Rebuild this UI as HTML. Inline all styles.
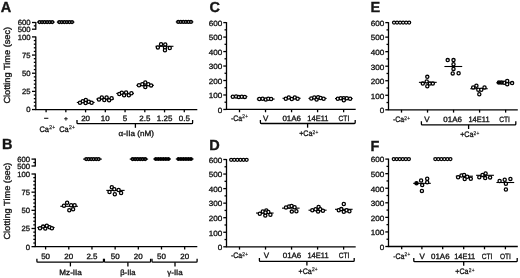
<!DOCTYPE html>
<html><head><meta charset="utf-8"><style>
html,body{margin:0;padding:0;background:#fff;}
svg{display:block;filter:grayscale(1);}
text{font-family:"Liberation Sans",sans-serif;fill:#151515;stroke:#151515;stroke-width:0.35px;text-rendering:geometricPrecision;}
</style></head><body>
<svg width="520" height="278" viewBox="0 0 520 278" xmlns="http://www.w3.org/2000/svg">
<g stroke="#000" stroke-linecap="butt" fill="none">
<text x="0.70" y="11.90" font-size="14.5" font-weight="bold">A</text>
<line x1="35.80" y1="22.00" x2="35.80" y2="29.70" stroke-width="1.3"/>
<line x1="32.00" y1="22.50" x2="35.80" y2="22.50" stroke-width="1.3"/>
<line x1="32.00" y1="29.20" x2="35.80" y2="29.20" stroke-width="1.3"/>
<line x1="33.80" y1="25.85" x2="35.80" y2="25.85" stroke-width="1.3"/>
<text transform="translate(30.50,25.35) scale(0.95,0.93)" text-anchor="end" font-size="8.1">600</text>
<text transform="translate(30.50,32.05) scale(0.95,0.93)" text-anchor="end" font-size="8.1">500</text>
<line x1="35.80" y1="36.40" x2="35.80" y2="109.55" stroke-width="1.3"/>
<line x1="32.00" y1="109.55" x2="35.80" y2="109.55" stroke-width="1.3"/>
<text transform="translate(30.50,112.40) scale(0.95,0.93)" text-anchor="end" font-size="8.1">0</text>
<line x1="33.80" y1="105.92" x2="35.80" y2="105.92" stroke-width="1.3"/>
<line x1="33.80" y1="102.28" x2="35.80" y2="102.28" stroke-width="1.3"/>
<line x1="33.80" y1="98.65" x2="35.80" y2="98.65" stroke-width="1.3"/>
<line x1="33.80" y1="95.02" x2="35.80" y2="95.02" stroke-width="1.3"/>
<line x1="32.00" y1="91.39" x2="35.80" y2="91.39" stroke-width="1.3"/>
<text transform="translate(30.50,94.24) scale(0.95,0.93)" text-anchor="end" font-size="8.1">25</text>
<line x1="33.80" y1="87.75" x2="35.80" y2="87.75" stroke-width="1.3"/>
<line x1="33.80" y1="84.12" x2="35.80" y2="84.12" stroke-width="1.3"/>
<line x1="33.80" y1="80.49" x2="35.80" y2="80.49" stroke-width="1.3"/>
<line x1="33.80" y1="76.86" x2="35.80" y2="76.86" stroke-width="1.3"/>
<line x1="32.00" y1="73.22" x2="35.80" y2="73.22" stroke-width="1.3"/>
<text transform="translate(30.50,76.07) scale(0.95,0.93)" text-anchor="end" font-size="8.1">50</text>
<line x1="33.80" y1="69.59" x2="35.80" y2="69.59" stroke-width="1.3"/>
<line x1="33.80" y1="65.96" x2="35.80" y2="65.96" stroke-width="1.3"/>
<line x1="33.80" y1="62.33" x2="35.80" y2="62.33" stroke-width="1.3"/>
<line x1="33.80" y1="58.69" x2="35.80" y2="58.69" stroke-width="1.3"/>
<line x1="32.00" y1="55.06" x2="35.80" y2="55.06" stroke-width="1.3"/>
<text transform="translate(30.50,57.91) scale(0.95,0.93)" text-anchor="end" font-size="8.1">75</text>
<line x1="33.80" y1="51.43" x2="35.80" y2="51.43" stroke-width="1.3"/>
<line x1="33.80" y1="47.80" x2="35.80" y2="47.80" stroke-width="1.3"/>
<line x1="33.80" y1="44.16" x2="35.80" y2="44.16" stroke-width="1.3"/>
<line x1="33.80" y1="40.53" x2="35.80" y2="40.53" stroke-width="1.3"/>
<line x1="32.00" y1="36.90" x2="35.80" y2="36.90" stroke-width="1.3"/>
<text transform="translate(30.50,39.75) scale(0.95,0.93)" text-anchor="end" font-size="8.1">100</text>
<text x="0" y="0" transform="translate(9.7,65.25) rotate(-90)" text-anchor="middle" font-size="8.8" textLength="76.7" lengthAdjust="spacingAndGlyphs">Clotting Time (sec)</text>
<line x1="35.25" y1="109.55" x2="197.30" y2="109.55" stroke-width="1.3"/>
<line x1="46.10" y1="109.55" x2="46.10" y2="112.35" stroke-width="1.3"/>
<line x1="65.84" y1="109.55" x2="65.84" y2="112.35" stroke-width="1.3"/>
<line x1="85.58" y1="109.55" x2="85.58" y2="112.35" stroke-width="1.3"/>
<line x1="105.32" y1="109.55" x2="105.32" y2="112.35" stroke-width="1.3"/>
<line x1="125.06" y1="109.55" x2="125.06" y2="112.35" stroke-width="1.3"/>
<line x1="144.80" y1="109.55" x2="144.80" y2="112.35" stroke-width="1.3"/>
<line x1="164.54" y1="109.55" x2="164.54" y2="112.35" stroke-width="1.3"/>
<line x1="184.28" y1="109.55" x2="184.28" y2="112.35" stroke-width="1.3"/>
<text x="46.30" y="120.10" text-anchor="middle" font-size="7">–</text>
<text x="65.84" y="120.90" text-anchor="middle" font-size="6.6">+</text>
<text transform="translate(47.30,131.60) scale(0.92,1)" text-anchor="middle" font-size="8.0">Ca<tspan font-size="5.44" dx="0.3" dy="-2.5" style="stroke-width:0.25px">2</tspan><tspan font-size="5.44" dx="0.3" style="stroke-width:0.2px">+</tspan></text>
<text transform="translate(67.04,131.60) scale(0.92,1)" text-anchor="middle" font-size="8.0">Ca<tspan font-size="5.44" dx="0.3" dy="-2.5" style="stroke-width:0.25px">2</tspan><tspan font-size="5.44" dx="0.3" style="stroke-width:0.2px">+</tspan></text>
<text transform="translate(85.58,120.60) scale(1.0,0.96)" text-anchor="middle" font-size="8.0">20</text>
<text transform="translate(105.32,120.60) scale(1.0,0.96)" text-anchor="middle" font-size="8.0">10</text>
<text transform="translate(125.06,120.60) scale(1.0,0.96)" text-anchor="middle" font-size="8.0">5</text>
<text transform="translate(144.80,120.60) scale(1.0,0.96)" text-anchor="middle" font-size="8.0">2.5</text>
<text transform="translate(164.54,120.60) scale(1.0,0.96)" text-anchor="middle" font-size="8.0">1.25</text>
<text transform="translate(184.28,120.60) scale(1.0,0.96)" text-anchor="middle" font-size="8.0">0.5</text>
<path d="M77.00,120.10 L77.00,122.70 Q77.00,123.60 77.90,123.60 L191.70,123.60 Q192.60,123.60 192.60,122.70 L192.60,120.10" fill="none" stroke-width="1.3"/>
<line x1="135.40" y1="123.60" x2="135.40" y2="127.80" stroke-width="1.3"/>
<text transform="translate(136.20,136.40) scale(1.0,0.96)" text-anchor="middle" font-size="8.0" textLength="35.4" lengthAdjust="spacingAndGlyphs">α-IIa (nM)</text>
<line x1="37.10" y1="22.10" x2="54.70" y2="22.10" stroke-width="1.1"/>
<circle cx="39.52" cy="22.10" r="1.3" fill="#fff" stroke-width="1.5"/>
<circle cx="42.07" cy="22.10" r="1.3" fill="#fff" stroke-width="1.5"/>
<circle cx="44.62" cy="22.10" r="1.3" fill="#fff" stroke-width="1.5"/>
<circle cx="47.17" cy="22.10" r="1.3" fill="#fff" stroke-width="1.5"/>
<circle cx="49.72" cy="22.10" r="1.3" fill="#fff" stroke-width="1.5"/>
<circle cx="52.27" cy="22.10" r="1.3" fill="#fff" stroke-width="1.5"/>
<line x1="56.84" y1="22.10" x2="74.44" y2="22.10" stroke-width="1.1"/>
<circle cx="59.27" cy="22.10" r="1.3" fill="#fff" stroke-width="1.5"/>
<circle cx="61.81" cy="22.10" r="1.3" fill="#fff" stroke-width="1.5"/>
<circle cx="64.36" cy="22.10" r="1.3" fill="#fff" stroke-width="1.5"/>
<circle cx="66.92" cy="22.10" r="1.3" fill="#fff" stroke-width="1.5"/>
<circle cx="69.47" cy="22.10" r="1.3" fill="#fff" stroke-width="1.5"/>
<circle cx="72.02" cy="22.10" r="1.3" fill="#fff" stroke-width="1.5"/>
<line x1="76.80" y1="102.45" x2="94.60" y2="102.45" stroke-width="1.1"/>
<circle cx="80.00" cy="102.80" r="1.6" fill="#fff" stroke-width="1.3"/>
<circle cx="82.80" cy="101.30" r="1.6" fill="#fff" stroke-width="1.3"/>
<circle cx="85.80" cy="100.00" r="1.6" fill="#fff" stroke-width="1.3"/>
<circle cx="85.60" cy="103.00" r="1.6" fill="#fff" stroke-width="1.3"/>
<circle cx="88.80" cy="101.80" r="1.6" fill="#fff" stroke-width="1.3"/>
<circle cx="91.60" cy="102.80" r="1.6" fill="#fff" stroke-width="1.3"/>
<line x1="96.30" y1="99.00" x2="113.90" y2="99.00" stroke-width="1.1"/>
<circle cx="99.00" cy="99.50" r="1.6" fill="#fff" stroke-width="1.3"/>
<circle cx="101.80" cy="97.50" r="1.6" fill="#fff" stroke-width="1.3"/>
<circle cx="104.30" cy="100.00" r="1.6" fill="#fff" stroke-width="1.3"/>
<circle cx="106.60" cy="97.50" r="1.6" fill="#fff" stroke-width="1.3"/>
<circle cx="109.10" cy="100.30" r="1.6" fill="#fff" stroke-width="1.3"/>
<circle cx="111.60" cy="98.30" r="1.6" fill="#fff" stroke-width="1.3"/>
<line x1="116.30" y1="93.45" x2="133.90" y2="93.45" stroke-width="1.1"/>
<circle cx="119.30" cy="94.00" r="1.6" fill="#fff" stroke-width="1.3"/>
<circle cx="121.80" cy="92.80" r="1.6" fill="#fff" stroke-width="1.3"/>
<circle cx="124.10" cy="95.30" r="1.6" fill="#fff" stroke-width="1.3"/>
<circle cx="126.10" cy="92.50" r="1.6" fill="#fff" stroke-width="1.3"/>
<circle cx="128.80" cy="95.30" r="1.6" fill="#fff" stroke-width="1.3"/>
<circle cx="131.40" cy="93.30" r="1.6" fill="#fff" stroke-width="1.3"/>
<line x1="136.30" y1="85.30" x2="153.90" y2="85.30" stroke-width="1.1"/>
<circle cx="139.00" cy="85.30" r="1.6" fill="#fff" stroke-width="1.3"/>
<circle cx="142.30" cy="84.30" r="1.6" fill="#fff" stroke-width="1.3"/>
<circle cx="145.30" cy="82.50" r="1.6" fill="#fff" stroke-width="1.3"/>
<circle cx="145.30" cy="87.10" r="1.6" fill="#fff" stroke-width="1.3"/>
<circle cx="148.30" cy="84.30" r="1.6" fill="#fff" stroke-width="1.3"/>
<circle cx="151.10" cy="85.40" r="1.6" fill="#fff" stroke-width="1.3"/>
<line x1="155.45" y1="46.30" x2="173.45" y2="46.30" stroke-width="1.1"/>
<circle cx="157.85" cy="47.40" r="1.6" fill="#fff" stroke-width="1.3"/>
<circle cx="161.05" cy="44.20" r="1.6" fill="#fff" stroke-width="1.3"/>
<circle cx="165.25" cy="44.50" r="1.6" fill="#fff" stroke-width="1.3"/>
<circle cx="164.95" cy="47.70" r="1.6" fill="#fff" stroke-width="1.3"/>
<circle cx="164.95" cy="50.30" r="1.6" fill="#fff" stroke-width="1.3"/>
<circle cx="169.75" cy="48.00" r="1.6" fill="#fff" stroke-width="1.3"/>
<line x1="175.80" y1="21.90" x2="193.40" y2="21.90" stroke-width="1.1"/>
<circle cx="178.22" cy="21.90" r="1.3" fill="#fff" stroke-width="1.5"/>
<circle cx="180.78" cy="21.90" r="1.3" fill="#fff" stroke-width="1.5"/>
<circle cx="183.32" cy="21.90" r="1.3" fill="#fff" stroke-width="1.5"/>
<circle cx="185.88" cy="21.90" r="1.3" fill="#fff" stroke-width="1.5"/>
<circle cx="188.42" cy="21.90" r="1.3" fill="#fff" stroke-width="1.5"/>
<circle cx="190.97" cy="21.90" r="1.3" fill="#fff" stroke-width="1.5"/>
<text x="2.00" y="149.30" font-size="14.5" font-weight="bold">B</text>
<line x1="35.30" y1="158.60" x2="35.30" y2="166.50" stroke-width="1.3"/>
<line x1="31.50" y1="159.10" x2="35.30" y2="159.10" stroke-width="1.3"/>
<line x1="31.50" y1="166.00" x2="35.30" y2="166.00" stroke-width="1.3"/>
<line x1="33.30" y1="162.55" x2="35.30" y2="162.55" stroke-width="1.3"/>
<text transform="translate(30.00,161.95) scale(0.95,0.93)" text-anchor="end" font-size="8.1">600</text>
<text transform="translate(30.00,168.85) scale(0.95,0.93)" text-anchor="end" font-size="8.1">500</text>
<line x1="35.30" y1="173.50" x2="35.30" y2="246.65" stroke-width="1.3"/>
<line x1="31.50" y1="246.65" x2="35.30" y2="246.65" stroke-width="1.3"/>
<text transform="translate(30.00,249.50) scale(0.95,0.93)" text-anchor="end" font-size="8.1">0</text>
<line x1="33.30" y1="243.02" x2="35.30" y2="243.02" stroke-width="1.3"/>
<line x1="33.30" y1="239.38" x2="35.30" y2="239.38" stroke-width="1.3"/>
<line x1="33.30" y1="235.75" x2="35.30" y2="235.75" stroke-width="1.3"/>
<line x1="33.30" y1="232.12" x2="35.30" y2="232.12" stroke-width="1.3"/>
<line x1="31.50" y1="228.49" x2="35.30" y2="228.49" stroke-width="1.3"/>
<text transform="translate(30.00,231.34) scale(0.95,0.93)" text-anchor="end" font-size="8.1">25</text>
<line x1="33.30" y1="224.85" x2="35.30" y2="224.85" stroke-width="1.3"/>
<line x1="33.30" y1="221.22" x2="35.30" y2="221.22" stroke-width="1.3"/>
<line x1="33.30" y1="217.59" x2="35.30" y2="217.59" stroke-width="1.3"/>
<line x1="33.30" y1="213.96" x2="35.30" y2="213.96" stroke-width="1.3"/>
<line x1="31.50" y1="210.32" x2="35.30" y2="210.32" stroke-width="1.3"/>
<text transform="translate(30.00,213.17) scale(0.95,0.93)" text-anchor="end" font-size="8.1">50</text>
<line x1="33.30" y1="206.69" x2="35.30" y2="206.69" stroke-width="1.3"/>
<line x1="33.30" y1="203.06" x2="35.30" y2="203.06" stroke-width="1.3"/>
<line x1="33.30" y1="199.43" x2="35.30" y2="199.43" stroke-width="1.3"/>
<line x1="33.30" y1="195.79" x2="35.30" y2="195.79" stroke-width="1.3"/>
<line x1="31.50" y1="192.16" x2="35.30" y2="192.16" stroke-width="1.3"/>
<text transform="translate(30.00,195.01) scale(0.95,0.93)" text-anchor="end" font-size="8.1">75</text>
<line x1="33.30" y1="188.53" x2="35.30" y2="188.53" stroke-width="1.3"/>
<line x1="33.30" y1="184.90" x2="35.30" y2="184.90" stroke-width="1.3"/>
<line x1="33.30" y1="181.26" x2="35.30" y2="181.26" stroke-width="1.3"/>
<line x1="33.30" y1="177.63" x2="35.30" y2="177.63" stroke-width="1.3"/>
<line x1="31.50" y1="174.00" x2="35.30" y2="174.00" stroke-width="1.3"/>
<text transform="translate(30.00,176.85) scale(0.95,0.93)" text-anchor="end" font-size="8.1">100</text>
<text x="0" y="0" transform="translate(9.7,201.10) rotate(-90)" text-anchor="middle" font-size="8.8" textLength="77.0" lengthAdjust="spacingAndGlyphs">Clotting Time (sec)</text>
<line x1="34.70" y1="246.65" x2="197.30" y2="246.65" stroke-width="1.3"/>
<line x1="45.60" y1="246.65" x2="45.60" y2="249.45" stroke-width="1.3"/>
<line x1="68.78" y1="246.65" x2="68.78" y2="249.45" stroke-width="1.3"/>
<line x1="91.96" y1="246.65" x2="91.96" y2="249.45" stroke-width="1.3"/>
<line x1="115.14" y1="246.65" x2="115.14" y2="249.45" stroke-width="1.3"/>
<line x1="138.32" y1="246.65" x2="138.32" y2="249.45" stroke-width="1.3"/>
<line x1="161.50" y1="246.65" x2="161.50" y2="249.45" stroke-width="1.3"/>
<line x1="184.68" y1="246.65" x2="184.68" y2="249.45" stroke-width="1.3"/>
<text transform="translate(45.60,258.90) scale(1.0,0.96)" text-anchor="middle" font-size="8.0">50</text>
<text transform="translate(68.78,258.90) scale(1.0,0.96)" text-anchor="middle" font-size="8.0">20</text>
<text transform="translate(91.96,258.90) scale(1.0,0.96)" text-anchor="middle" font-size="8.0">2.5</text>
<text transform="translate(115.14,258.90) scale(1.0,0.96)" text-anchor="middle" font-size="8.0">50</text>
<text transform="translate(138.32,258.90) scale(1.0,0.96)" text-anchor="middle" font-size="8.0">20</text>
<text transform="translate(161.50,258.90) scale(1.0,0.96)" text-anchor="middle" font-size="8.0">50</text>
<text transform="translate(184.68,258.90) scale(1.0,0.96)" text-anchor="middle" font-size="8.0">20</text>
<path d="M36.90,258.70 L36.90,261.30 Q36.90,262.20 37.80,262.20 L102.60,262.20 Q103.50,262.20 103.50,261.30 L103.50,258.70" fill="none" stroke-width="1.3"/>
<line x1="70.40" y1="262.20" x2="70.40" y2="266.40" stroke-width="1.3"/>
<path d="M104.40,258.70 L104.40,261.30 Q104.40,262.20 105.30,262.20 L149.70,262.20 Q150.60,262.20 150.60,261.30 L150.60,258.70" fill="none" stroke-width="1.3"/>
<line x1="127.90" y1="262.20" x2="127.90" y2="266.40" stroke-width="1.3"/>
<path d="M152.00,258.70 L152.00,261.30 Q152.00,262.20 152.90,262.20 L196.20,262.20 Q197.10,262.20 197.10,261.30 L197.10,258.70" fill="none" stroke-width="1.3"/>
<line x1="175.00" y1="262.20" x2="175.00" y2="266.40" stroke-width="1.3"/>
<text transform="translate(70.60,274.60) scale(1.0,0.96)" text-anchor="middle" font-size="8.0" textLength="22.5" lengthAdjust="spacingAndGlyphs">Mz-IIa</text>
<text transform="translate(127.90,274.60) scale(1.0,0.96)" text-anchor="middle" font-size="8.0" textLength="15.4" lengthAdjust="spacingAndGlyphs">β-IIa</text>
<text transform="translate(175.00,274.60) scale(1.0,0.96)" text-anchor="middle" font-size="8.0" textLength="15.4" lengthAdjust="spacingAndGlyphs">γ-IIa</text>
<line x1="37.30" y1="227.50" x2="54.60" y2="227.50" stroke-width="1.1"/>
<circle cx="40.00" cy="228.30" r="1.6" fill="#fff" stroke-width="1.3"/>
<circle cx="43.10" cy="226.60" r="1.6" fill="#fff" stroke-width="1.3"/>
<circle cx="45.30" cy="228.60" r="1.6" fill="#fff" stroke-width="1.3"/>
<circle cx="46.80" cy="225.80" r="1.6" fill="#fff" stroke-width="1.3"/>
<circle cx="49.60" cy="227.30" r="1.6" fill="#fff" stroke-width="1.3"/>
<circle cx="51.90" cy="228.30" r="1.6" fill="#fff" stroke-width="1.3"/>
<line x1="60.30" y1="206.30" x2="77.90" y2="206.30" stroke-width="1.1"/>
<circle cx="64.00" cy="205.80" r="1.6" fill="#fff" stroke-width="1.3"/>
<circle cx="67.10" cy="202.80" r="1.6" fill="#fff" stroke-width="1.3"/>
<circle cx="71.10" cy="205.30" r="1.6" fill="#fff" stroke-width="1.3"/>
<circle cx="74.60" cy="205.30" r="1.6" fill="#fff" stroke-width="1.3"/>
<circle cx="69.30" cy="210.30" r="1.6" fill="#fff" stroke-width="1.3"/>
<circle cx="73.10" cy="209.30" r="1.6" fill="#fff" stroke-width="1.3"/>
<line x1="83.05" y1="159.10" x2="101.85" y2="159.10" stroke-width="1.1"/>
<circle cx="86.20" cy="159.10" r="1.3" fill="#fff" stroke-width="1.5"/>
<circle cx="88.70" cy="159.10" r="1.3" fill="#fff" stroke-width="1.5"/>
<circle cx="91.20" cy="159.10" r="1.3" fill="#fff" stroke-width="1.5"/>
<circle cx="93.70" cy="159.10" r="1.3" fill="#fff" stroke-width="1.5"/>
<circle cx="96.20" cy="159.10" r="1.3" fill="#fff" stroke-width="1.5"/>
<circle cx="98.70" cy="159.10" r="1.3" fill="#fff" stroke-width="1.5"/>
<line x1="106.30" y1="190.40" x2="124.60" y2="190.40" stroke-width="1.1"/>
<circle cx="109.50" cy="192.00" r="1.6" fill="#fff" stroke-width="1.3"/>
<circle cx="111.80" cy="187.30" r="1.6" fill="#fff" stroke-width="1.3"/>
<circle cx="114.30" cy="189.30" r="1.6" fill="#fff" stroke-width="1.3"/>
<circle cx="114.80" cy="194.30" r="1.6" fill="#fff" stroke-width="1.3"/>
<circle cx="118.60" cy="190.00" r="1.6" fill="#fff" stroke-width="1.3"/>
<circle cx="121.10" cy="193.00" r="1.6" fill="#fff" stroke-width="1.3"/>
<line x1="129.70" y1="159.10" x2="148.10" y2="159.10" stroke-width="1.1"/>
<circle cx="132.65" cy="159.10" r="1.3" fill="#fff" stroke-width="1.7"/>
<circle cx="135.15" cy="159.10" r="1.3" fill="#fff" stroke-width="1.7"/>
<circle cx="137.65" cy="159.10" r="1.3" fill="#fff" stroke-width="1.7"/>
<circle cx="140.15" cy="159.10" r="1.3" fill="#fff" stroke-width="1.7"/>
<circle cx="142.65" cy="159.10" r="1.3" fill="#fff" stroke-width="1.7"/>
<circle cx="145.15" cy="159.10" r="1.3" fill="#fff" stroke-width="1.7"/>
<line x1="153.20" y1="159.00" x2="171.00" y2="159.00" stroke-width="1.1"/>
<circle cx="155.85" cy="159.00" r="1.3" fill="#000" stroke-width="1.3"/>
<circle cx="158.35" cy="159.00" r="1.3" fill="#000" stroke-width="1.3"/>
<circle cx="160.85" cy="159.00" r="1.3" fill="#000" stroke-width="1.3"/>
<circle cx="163.35" cy="159.00" r="1.3" fill="#000" stroke-width="1.3"/>
<circle cx="165.85" cy="159.00" r="1.3" fill="#000" stroke-width="1.3"/>
<circle cx="168.35" cy="159.00" r="1.3" fill="#000" stroke-width="1.3"/>
<line x1="175.80" y1="159.00" x2="193.60" y2="159.00" stroke-width="1.1"/>
<circle cx="178.45" cy="159.00" r="1.3" fill="#000" stroke-width="1.3"/>
<circle cx="180.95" cy="159.00" r="1.3" fill="#000" stroke-width="1.3"/>
<circle cx="183.45" cy="159.00" r="1.3" fill="#000" stroke-width="1.3"/>
<circle cx="185.95" cy="159.00" r="1.3" fill="#000" stroke-width="1.3"/>
<circle cx="188.45" cy="159.00" r="1.3" fill="#000" stroke-width="1.3"/>
<circle cx="190.95" cy="159.00" r="1.3" fill="#000" stroke-width="1.3"/>
<text x="209.60" y="11.60" font-size="14.5" font-weight="bold">C</text>
<line x1="226.50" y1="22.10" x2="226.50" y2="109.45" stroke-width="1.3"/>
<line x1="223.30" y1="109.45" x2="226.50" y2="109.45" stroke-width="1.3"/>
<text transform="translate(222.20,112.75) scale(1.0,0.93)" text-anchor="end" font-size="8.1">0</text>
<line x1="224.50" y1="102.21" x2="226.50" y2="102.21" stroke-width="1.3"/>
<line x1="223.30" y1="94.98" x2="226.50" y2="94.98" stroke-width="1.3"/>
<text transform="translate(222.20,98.28) scale(1.0,0.93)" text-anchor="end" font-size="8.1">100</text>
<line x1="224.50" y1="87.74" x2="226.50" y2="87.74" stroke-width="1.3"/>
<line x1="223.30" y1="80.50" x2="226.50" y2="80.50" stroke-width="1.3"/>
<text transform="translate(222.20,83.80) scale(1.0,0.93)" text-anchor="end" font-size="8.1">200</text>
<line x1="224.50" y1="73.26" x2="226.50" y2="73.26" stroke-width="1.3"/>
<line x1="223.30" y1="66.03" x2="226.50" y2="66.03" stroke-width="1.3"/>
<text transform="translate(222.20,69.33) scale(1.0,0.93)" text-anchor="end" font-size="8.1">300</text>
<line x1="224.50" y1="58.79" x2="226.50" y2="58.79" stroke-width="1.3"/>
<line x1="223.30" y1="51.55" x2="226.50" y2="51.55" stroke-width="1.3"/>
<text transform="translate(222.20,54.85) scale(1.0,0.93)" text-anchor="end" font-size="8.1">400</text>
<line x1="224.50" y1="44.31" x2="226.50" y2="44.31" stroke-width="1.3"/>
<line x1="223.30" y1="37.08" x2="226.50" y2="37.08" stroke-width="1.3"/>
<text transform="translate(222.20,40.38) scale(1.0,0.93)" text-anchor="end" font-size="8.1">500</text>
<line x1="224.50" y1="29.84" x2="226.50" y2="29.84" stroke-width="1.3"/>
<line x1="223.30" y1="22.60" x2="226.50" y2="22.60" stroke-width="1.3"/>
<text transform="translate(222.20,25.90) scale(1.0,0.93)" text-anchor="end" font-size="8.1">600</text>
<line x1="225.85" y1="109.45" x2="355.70" y2="109.45" stroke-width="1.3"/>
<line x1="239.50" y1="109.45" x2="239.50" y2="112.25" stroke-width="1.3"/>
<line x1="265.53" y1="109.45" x2="265.53" y2="112.25" stroke-width="1.3"/>
<line x1="291.56" y1="109.45" x2="291.56" y2="112.25" stroke-width="1.3"/>
<line x1="317.59" y1="109.45" x2="317.59" y2="112.25" stroke-width="1.3"/>
<line x1="343.62" y1="109.45" x2="343.62" y2="112.25" stroke-width="1.3"/>
<text transform="translate(239.50,120.90) scale(0.86,1)" text-anchor="middle" font-size="8.0">-Ca<tspan font-size="5.44" dx="0.3" dy="-2.5" style="stroke-width:0.25px">2</tspan><tspan font-size="5.44" dx="0.3" style="stroke-width:0.2px">+</tspan></text>
<text transform="translate(265.60,120.90) scale(1.0,0.96)" text-anchor="middle" font-size="8.0">V</text>
<text transform="translate(291.70,120.90) scale(1.0,0.96)" text-anchor="middle" font-size="8.0" textLength="18.6" lengthAdjust="spacingAndGlyphs">01A6</text>
<text transform="translate(317.90,120.90) scale(1.0,0.96)" text-anchor="middle" font-size="8.0" textLength="21.1" lengthAdjust="spacingAndGlyphs">14E11</text>
<text transform="translate(343.90,120.90) scale(1.0,0.96)" text-anchor="middle" font-size="8.0" textLength="10.7" lengthAdjust="spacingAndGlyphs">CTI</text>
<path d="M260.40,120.00 L260.40,122.60 Q260.40,123.50 261.30,123.50 L354.30,123.50 Q355.20,123.50 355.20,122.60 L355.20,120.00" fill="none" stroke-width="1.3"/>
<line x1="307.60" y1="123.50" x2="307.60" y2="127.70" stroke-width="1.3"/>
<text transform="translate(308.80,136.10) scale(0.88,1)" text-anchor="middle" font-size="8.0">+Ca<tspan font-size="5.44" dx="0.3" dy="-2.5" style="stroke-width:0.25px">2</tspan><tspan font-size="5.44" dx="0.3" style="stroke-width:0.2px">+</tspan></text>
<line x1="230.80" y1="96.60" x2="247.40" y2="96.60" stroke-width="1.1"/>
<circle cx="232.80" cy="96.70" r="1.6" fill="#fff" stroke-width="1.3"/>
<circle cx="236.10" cy="96.50" r="1.6" fill="#fff" stroke-width="1.3"/>
<circle cx="238.80" cy="97.10" r="1.6" fill="#fff" stroke-width="1.3"/>
<circle cx="241.80" cy="96.70" r="1.6" fill="#fff" stroke-width="1.3"/>
<circle cx="244.80" cy="96.90" r="1.6" fill="#fff" stroke-width="1.3"/>
<line x1="256.80" y1="99.05" x2="274.60" y2="99.05" stroke-width="1.1"/>
<circle cx="259.30" cy="99.05" r="1.6" fill="#fff" stroke-width="1.3"/>
<circle cx="262.60" cy="98.80" r="1.6" fill="#fff" stroke-width="1.3"/>
<circle cx="265.80" cy="99.50" r="1.6" fill="#fff" stroke-width="1.3"/>
<circle cx="268.30" cy="98.80" r="1.6" fill="#fff" stroke-width="1.3"/>
<circle cx="271.10" cy="99.05" r="1.6" fill="#fff" stroke-width="1.3"/>
<line x1="282.50" y1="98.30" x2="300.60" y2="98.30" stroke-width="1.1"/>
<circle cx="285.80" cy="98.80" r="1.6" fill="#fff" stroke-width="1.3"/>
<circle cx="288.80" cy="97.50" r="1.6" fill="#fff" stroke-width="1.3"/>
<circle cx="291.80" cy="99.00" r="1.6" fill="#fff" stroke-width="1.3"/>
<circle cx="294.80" cy="97.50" r="1.6" fill="#fff" stroke-width="1.3"/>
<circle cx="297.60" cy="98.80" r="1.6" fill="#fff" stroke-width="1.3"/>
<line x1="308.50" y1="98.45" x2="326.60" y2="98.45" stroke-width="1.1"/>
<circle cx="311.30" cy="98.50" r="1.6" fill="#fff" stroke-width="1.3"/>
<circle cx="314.30" cy="97.50" r="1.6" fill="#fff" stroke-width="1.3"/>
<circle cx="316.60" cy="99.55" r="1.6" fill="#fff" stroke-width="1.3"/>
<circle cx="318.10" cy="97.30" r="1.6" fill="#fff" stroke-width="1.3"/>
<circle cx="320.60" cy="98.00" r="1.6" fill="#fff" stroke-width="1.3"/>
<circle cx="323.60" cy="98.80" r="1.6" fill="#fff" stroke-width="1.3"/>
<line x1="335.00" y1="98.55" x2="352.60" y2="98.55" stroke-width="1.1"/>
<circle cx="337.80" cy="98.80" r="1.6" fill="#fff" stroke-width="1.3"/>
<circle cx="340.80" cy="98.30" r="1.6" fill="#fff" stroke-width="1.3"/>
<circle cx="343.80" cy="98.30" r="1.6" fill="#fff" stroke-width="1.3"/>
<circle cx="346.80" cy="98.30" r="1.6" fill="#fff" stroke-width="1.3"/>
<circle cx="350.10" cy="98.80" r="1.6" fill="#fff" stroke-width="1.3"/>
<circle cx="343.80" cy="100.30" r="1.6" fill="#fff" stroke-width="1.3"/>
<text x="209.30" y="149.60" font-size="14.5" font-weight="bold">D</text>
<line x1="226.50" y1="159.00" x2="226.50" y2="246.80" stroke-width="1.3"/>
<line x1="223.30" y1="246.80" x2="226.50" y2="246.80" stroke-width="1.3"/>
<text transform="translate(222.20,250.10) scale(1.0,0.93)" text-anchor="end" font-size="8.1">0</text>
<line x1="224.50" y1="239.53" x2="226.50" y2="239.53" stroke-width="1.3"/>
<line x1="223.30" y1="232.25" x2="226.50" y2="232.25" stroke-width="1.3"/>
<text transform="translate(222.20,235.55) scale(1.0,0.93)" text-anchor="end" font-size="8.1">100</text>
<line x1="224.50" y1="224.98" x2="226.50" y2="224.98" stroke-width="1.3"/>
<line x1="223.30" y1="217.70" x2="226.50" y2="217.70" stroke-width="1.3"/>
<text transform="translate(222.20,221.00) scale(1.0,0.93)" text-anchor="end" font-size="8.1">200</text>
<line x1="224.50" y1="210.43" x2="226.50" y2="210.43" stroke-width="1.3"/>
<line x1="223.30" y1="203.15" x2="226.50" y2="203.15" stroke-width="1.3"/>
<text transform="translate(222.20,206.45) scale(1.0,0.93)" text-anchor="end" font-size="8.1">300</text>
<line x1="224.50" y1="195.88" x2="226.50" y2="195.88" stroke-width="1.3"/>
<line x1="223.30" y1="188.60" x2="226.50" y2="188.60" stroke-width="1.3"/>
<text transform="translate(222.20,191.90) scale(1.0,0.93)" text-anchor="end" font-size="8.1">400</text>
<line x1="224.50" y1="181.32" x2="226.50" y2="181.32" stroke-width="1.3"/>
<line x1="223.30" y1="174.05" x2="226.50" y2="174.05" stroke-width="1.3"/>
<text transform="translate(222.20,177.35) scale(1.0,0.93)" text-anchor="end" font-size="8.1">500</text>
<line x1="224.50" y1="166.78" x2="226.50" y2="166.78" stroke-width="1.3"/>
<line x1="223.30" y1="159.50" x2="226.50" y2="159.50" stroke-width="1.3"/>
<text transform="translate(222.20,162.80) scale(1.0,0.93)" text-anchor="end" font-size="8.1">600</text>
<line x1="225.85" y1="246.80" x2="355.70" y2="246.80" stroke-width="1.3"/>
<line x1="239.50" y1="246.80" x2="239.50" y2="249.60" stroke-width="1.3"/>
<line x1="265.53" y1="246.80" x2="265.53" y2="249.60" stroke-width="1.3"/>
<line x1="291.56" y1="246.80" x2="291.56" y2="249.60" stroke-width="1.3"/>
<line x1="317.59" y1="246.80" x2="317.59" y2="249.60" stroke-width="1.3"/>
<line x1="343.62" y1="246.80" x2="343.62" y2="249.60" stroke-width="1.3"/>
<text transform="translate(239.50,258.30) scale(0.86,1)" text-anchor="middle" font-size="8.0">-Ca<tspan font-size="5.44" dx="0.3" dy="-2.5" style="stroke-width:0.25px">2</tspan><tspan font-size="5.44" dx="0.3" style="stroke-width:0.2px">+</tspan></text>
<text transform="translate(266.30,258.30) scale(1.0,0.96)" text-anchor="middle" font-size="8.0">V</text>
<text transform="translate(292.00,258.30) scale(1.0,0.96)" text-anchor="middle" font-size="8.0" textLength="18.6" lengthAdjust="spacingAndGlyphs">01A6</text>
<text transform="translate(318.00,258.30) scale(1.0,0.96)" text-anchor="middle" font-size="8.0" textLength="21.1" lengthAdjust="spacingAndGlyphs">14E11</text>
<text transform="translate(344.00,258.30) scale(1.0,0.96)" text-anchor="middle" font-size="8.0" textLength="10.7" lengthAdjust="spacingAndGlyphs">CTI</text>
<path d="M259.40,257.90 L259.40,260.50 Q259.40,261.40 260.30,261.40 L353.30,261.40 Q354.20,261.40 354.20,260.50 L354.20,257.90" fill="none" stroke-width="1.3"/>
<line x1="306.90" y1="261.40" x2="306.90" y2="265.60" stroke-width="1.3"/>
<text transform="translate(308.10,273.70) scale(0.88,1)" text-anchor="middle" font-size="8.0">+Ca<tspan font-size="5.44" dx="0.3" dy="-2.5" style="stroke-width:0.25px">2</tspan><tspan font-size="5.44" dx="0.3" style="stroke-width:0.2px">+</tspan></text>
<line x1="231.90" y1="159.85" x2="245.90" y2="159.85" stroke-width="1.1"/>
<circle cx="231.15" cy="159.85" r="1.5" fill="#fff" stroke-width="1.25"/>
<circle cx="234.25" cy="159.85" r="1.5" fill="#fff" stroke-width="1.25"/>
<circle cx="237.35" cy="159.85" r="1.5" fill="#fff" stroke-width="1.25"/>
<circle cx="240.45" cy="159.85" r="1.5" fill="#fff" stroke-width="1.25"/>
<circle cx="243.55" cy="159.85" r="1.5" fill="#fff" stroke-width="1.25"/>
<circle cx="246.65" cy="159.85" r="1.5" fill="#fff" stroke-width="1.25"/>
<line x1="256.00" y1="213.05" x2="273.60" y2="213.05" stroke-width="1.1"/>
<circle cx="259.80" cy="213.80" r="1.6" fill="#fff" stroke-width="1.3"/>
<circle cx="262.80" cy="211.50" r="1.6" fill="#fff" stroke-width="1.3"/>
<circle cx="266.30" cy="210.50" r="1.6" fill="#fff" stroke-width="1.3"/>
<circle cx="268.30" cy="212.00" r="1.6" fill="#fff" stroke-width="1.3"/>
<circle cx="265.30" cy="215.60" r="1.6" fill="#fff" stroke-width="1.3"/>
<circle cx="270.40" cy="214.80" r="1.6" fill="#fff" stroke-width="1.3"/>
<circle cx="265.50" cy="212.55" r="1.6" fill="#fff" stroke-width="1.3"/>
<line x1="282.00" y1="208.15" x2="299.60" y2="208.15" stroke-width="1.1"/>
<circle cx="286.00" cy="207.50" r="1.6" fill="#fff" stroke-width="1.3"/>
<circle cx="289.10" cy="206.50" r="1.6" fill="#fff" stroke-width="1.3"/>
<circle cx="291.60" cy="206.00" r="1.6" fill="#fff" stroke-width="1.3"/>
<circle cx="294.60" cy="207.30" r="1.6" fill="#fff" stroke-width="1.3"/>
<circle cx="291.80" cy="211.60" r="1.6" fill="#fff" stroke-width="1.3"/>
<circle cx="296.40" cy="211.30" r="1.6" fill="#fff" stroke-width="1.3"/>
<line x1="308.50" y1="210.20" x2="326.60" y2="210.20" stroke-width="1.1"/>
<circle cx="312.30" cy="210.30" r="1.6" fill="#fff" stroke-width="1.3"/>
<circle cx="315.60" cy="209.30" r="1.6" fill="#fff" stroke-width="1.3"/>
<circle cx="318.60" cy="207.00" r="1.6" fill="#fff" stroke-width="1.3"/>
<circle cx="318.10" cy="211.60" r="1.6" fill="#fff" stroke-width="1.3"/>
<circle cx="320.30" cy="209.30" r="1.6" fill="#fff" stroke-width="1.3"/>
<circle cx="322.90" cy="210.80" r="1.6" fill="#fff" stroke-width="1.3"/>
<line x1="335.00" y1="209.30" x2="352.60" y2="209.30" stroke-width="1.1"/>
<circle cx="343.80" cy="204.00" r="1.6" fill="#fff" stroke-width="1.3"/>
<circle cx="338.80" cy="210.30" r="1.6" fill="#fff" stroke-width="1.3"/>
<circle cx="341.30" cy="209.10" r="1.6" fill="#fff" stroke-width="1.3"/>
<circle cx="343.80" cy="211.80" r="1.6" fill="#fff" stroke-width="1.3"/>
<circle cx="346.60" cy="210.30" r="1.6" fill="#fff" stroke-width="1.3"/>
<circle cx="349.40" cy="211.30" r="1.6" fill="#fff" stroke-width="1.3"/>
<text x="370.50" y="11.90" font-size="14.5" font-weight="bold">E</text>
<line x1="388.50" y1="22.10" x2="388.50" y2="109.80" stroke-width="1.3"/>
<line x1="385.30" y1="109.80" x2="388.50" y2="109.80" stroke-width="1.3"/>
<text transform="translate(384.20,113.10) scale(1.0,0.93)" text-anchor="end" font-size="8.1">0</text>
<line x1="386.50" y1="102.53" x2="388.50" y2="102.53" stroke-width="1.3"/>
<line x1="385.30" y1="95.27" x2="388.50" y2="95.27" stroke-width="1.3"/>
<text transform="translate(384.20,98.57) scale(1.0,0.93)" text-anchor="end" font-size="8.1">100</text>
<line x1="386.50" y1="88.00" x2="388.50" y2="88.00" stroke-width="1.3"/>
<line x1="385.30" y1="80.73" x2="388.50" y2="80.73" stroke-width="1.3"/>
<text transform="translate(384.20,84.03) scale(1.0,0.93)" text-anchor="end" font-size="8.1">200</text>
<line x1="386.50" y1="73.47" x2="388.50" y2="73.47" stroke-width="1.3"/>
<line x1="385.30" y1="66.20" x2="388.50" y2="66.20" stroke-width="1.3"/>
<text transform="translate(384.20,69.50) scale(1.0,0.93)" text-anchor="end" font-size="8.1">300</text>
<line x1="386.50" y1="58.93" x2="388.50" y2="58.93" stroke-width="1.3"/>
<line x1="385.30" y1="51.67" x2="388.50" y2="51.67" stroke-width="1.3"/>
<text transform="translate(384.20,54.97) scale(1.0,0.93)" text-anchor="end" font-size="8.1">400</text>
<line x1="386.50" y1="44.40" x2="388.50" y2="44.40" stroke-width="1.3"/>
<line x1="385.30" y1="37.13" x2="388.50" y2="37.13" stroke-width="1.3"/>
<text transform="translate(384.20,40.43) scale(1.0,0.93)" text-anchor="end" font-size="8.1">500</text>
<line x1="386.50" y1="29.87" x2="388.50" y2="29.87" stroke-width="1.3"/>
<line x1="385.30" y1="22.60" x2="388.50" y2="22.60" stroke-width="1.3"/>
<text transform="translate(384.20,25.90) scale(1.0,0.93)" text-anchor="end" font-size="8.1">600</text>
<line x1="387.85" y1="109.80" x2="517.80" y2="109.80" stroke-width="1.3"/>
<line x1="401.50" y1="109.80" x2="401.50" y2="112.60" stroke-width="1.3"/>
<line x1="427.53" y1="109.80" x2="427.53" y2="112.60" stroke-width="1.3"/>
<line x1="453.56" y1="109.80" x2="453.56" y2="112.60" stroke-width="1.3"/>
<line x1="479.59" y1="109.80" x2="479.59" y2="112.60" stroke-width="1.3"/>
<line x1="505.62" y1="109.80" x2="505.62" y2="112.60" stroke-width="1.3"/>
<text transform="translate(401.50,122.00) scale(0.86,1)" text-anchor="middle" font-size="8.0">-Ca<tspan font-size="5.44" dx="0.3" dy="-2.5" style="stroke-width:0.25px">2</tspan><tspan font-size="5.44" dx="0.3" style="stroke-width:0.2px">+</tspan></text>
<text transform="translate(427.00,122.00) scale(1.0,0.96)" text-anchor="middle" font-size="8.0">V</text>
<text transform="translate(452.60,122.00) scale(1.0,0.96)" text-anchor="middle" font-size="8.0" textLength="18.6" lengthAdjust="spacingAndGlyphs">01A6</text>
<text transform="translate(479.00,122.00) scale(1.0,0.96)" text-anchor="middle" font-size="8.0" textLength="21.1" lengthAdjust="spacingAndGlyphs">14E11</text>
<text transform="translate(504.60,122.00) scale(1.0,0.96)" text-anchor="middle" font-size="8.0" textLength="10.7" lengthAdjust="spacingAndGlyphs">CTI</text>
<path d="M421.40,121.30 L421.40,123.90 Q421.40,124.80 422.30,124.80 L514.90,124.80 Q515.80,124.80 515.80,123.90 L515.80,121.30" fill="none" stroke-width="1.3"/>
<line x1="468.60" y1="124.80" x2="468.60" y2="129.00" stroke-width="1.3"/>
<text transform="translate(469.80,137.30) scale(0.88,1)" text-anchor="middle" font-size="8.0">+Ca<tspan font-size="5.44" dx="0.3" dy="-2.5" style="stroke-width:0.25px">2</tspan><tspan font-size="5.44" dx="0.3" style="stroke-width:0.2px">+</tspan></text>
<line x1="394.60" y1="22.50" x2="408.60" y2="22.50" stroke-width="1.1"/>
<circle cx="394.03" cy="22.50" r="1.5" fill="#fff" stroke-width="1.25"/>
<circle cx="397.06" cy="22.50" r="1.5" fill="#fff" stroke-width="1.25"/>
<circle cx="400.09" cy="22.50" r="1.5" fill="#fff" stroke-width="1.25"/>
<circle cx="403.12" cy="22.50" r="1.5" fill="#fff" stroke-width="1.25"/>
<circle cx="406.15" cy="22.50" r="1.5" fill="#fff" stroke-width="1.25"/>
<circle cx="409.18" cy="22.50" r="1.5" fill="#fff" stroke-width="1.25"/>
<line x1="418.90" y1="82.35" x2="436.70" y2="82.35" stroke-width="1.1"/>
<circle cx="427.30" cy="76.85" r="1.6" fill="#fff" stroke-width="1.3"/>
<circle cx="426.70" cy="81.40" r="1.6" fill="#fff" stroke-width="1.3"/>
<circle cx="422.80" cy="83.60" r="1.6" fill="#fff" stroke-width="1.3"/>
<circle cx="429.90" cy="83.60" r="1.6" fill="#fff" stroke-width="1.3"/>
<circle cx="432.80" cy="83.60" r="1.6" fill="#fff" stroke-width="1.3"/>
<circle cx="427.30" cy="86.20" r="1.6" fill="#fff" stroke-width="1.3"/>
<line x1="444.40" y1="66.50" x2="462.20" y2="66.50" stroke-width="1.1"/>
<circle cx="447.70" cy="60.10" r="1.6" fill="#fff" stroke-width="1.3"/>
<circle cx="453.50" cy="60.10" r="1.6" fill="#fff" stroke-width="1.3"/>
<circle cx="453.50" cy="64.30" r="1.6" fill="#fff" stroke-width="1.3"/>
<circle cx="453.50" cy="68.90" r="1.6" fill="#fff" stroke-width="1.3"/>
<circle cx="452.70" cy="73.40" r="1.6" fill="#fff" stroke-width="1.3"/>
<circle cx="458.60" cy="73.20" r="1.6" fill="#fff" stroke-width="1.3"/>
<line x1="470.30" y1="88.70" x2="487.70" y2="88.70" stroke-width="1.1"/>
<circle cx="473.20" cy="87.40" r="1.6" fill="#fff" stroke-width="1.3"/>
<circle cx="476.40" cy="85.80" r="1.6" fill="#fff" stroke-width="1.3"/>
<circle cx="478.30" cy="89.70" r="1.6" fill="#fff" stroke-width="1.3"/>
<circle cx="481.30" cy="89.70" r="1.6" fill="#fff" stroke-width="1.3"/>
<circle cx="484.50" cy="87.40" r="1.6" fill="#fff" stroke-width="1.3"/>
<circle cx="479.30" cy="94.20" r="1.6" fill="#fff" stroke-width="1.3"/>
<line x1="496.30" y1="82.80" x2="513.60" y2="82.80" stroke-width="1.1"/>
<circle cx="504.15" cy="82.80" r="1.6" fill="#fff" stroke-width="1.3"/>
<circle cx="507.20" cy="81.00" r="1.6" fill="#fff" stroke-width="1.3"/>
<circle cx="507.20" cy="84.20" r="1.6" fill="#fff" stroke-width="1.3"/>
<circle cx="512.10" cy="83.10" r="1.6" fill="#fff" stroke-width="1.3"/>
<circle cx="498.95" cy="82.50" r="1.6" fill="#000" stroke-width="1.3"/>
<circle cx="501.55" cy="82.50" r="1.6" fill="#222" stroke-width="1.3"/>
<text x="370.50" y="150.60" font-size="14.5" font-weight="bold">F</text>
<line x1="388.50" y1="158.60" x2="388.50" y2="246.50" stroke-width="1.3"/>
<line x1="385.30" y1="246.50" x2="388.50" y2="246.50" stroke-width="1.3"/>
<text transform="translate(384.20,249.80) scale(1.0,0.93)" text-anchor="end" font-size="8.1">0</text>
<line x1="386.50" y1="239.22" x2="388.50" y2="239.22" stroke-width="1.3"/>
<line x1="385.30" y1="231.93" x2="388.50" y2="231.93" stroke-width="1.3"/>
<text transform="translate(384.20,235.23) scale(1.0,0.93)" text-anchor="end" font-size="8.1">100</text>
<line x1="386.50" y1="224.65" x2="388.50" y2="224.65" stroke-width="1.3"/>
<line x1="385.30" y1="217.37" x2="388.50" y2="217.37" stroke-width="1.3"/>
<text transform="translate(384.20,220.67) scale(1.0,0.93)" text-anchor="end" font-size="8.1">200</text>
<line x1="386.50" y1="210.08" x2="388.50" y2="210.08" stroke-width="1.3"/>
<line x1="385.30" y1="202.80" x2="388.50" y2="202.80" stroke-width="1.3"/>
<text transform="translate(384.20,206.10) scale(1.0,0.93)" text-anchor="end" font-size="8.1">300</text>
<line x1="386.50" y1="195.52" x2="388.50" y2="195.52" stroke-width="1.3"/>
<line x1="385.30" y1="188.23" x2="388.50" y2="188.23" stroke-width="1.3"/>
<text transform="translate(384.20,191.53) scale(1.0,0.93)" text-anchor="end" font-size="8.1">400</text>
<line x1="386.50" y1="180.95" x2="388.50" y2="180.95" stroke-width="1.3"/>
<line x1="385.30" y1="173.67" x2="388.50" y2="173.67" stroke-width="1.3"/>
<text transform="translate(384.20,176.97) scale(1.0,0.93)" text-anchor="end" font-size="8.1">500</text>
<line x1="386.50" y1="166.38" x2="388.50" y2="166.38" stroke-width="1.3"/>
<line x1="385.30" y1="159.10" x2="388.50" y2="159.10" stroke-width="1.3"/>
<text transform="translate(384.20,162.40) scale(1.0,0.93)" text-anchor="end" font-size="8.1">600</text>
<line x1="387.85" y1="246.50" x2="517.80" y2="246.50" stroke-width="1.3"/>
<line x1="401.70" y1="246.50" x2="401.70" y2="249.30" stroke-width="1.3"/>
<line x1="421.90" y1="246.50" x2="421.90" y2="249.30" stroke-width="1.3"/>
<line x1="442.70" y1="246.50" x2="442.70" y2="249.30" stroke-width="1.3"/>
<line x1="463.70" y1="246.50" x2="463.70" y2="249.30" stroke-width="1.3"/>
<line x1="484.50" y1="246.50" x2="484.50" y2="249.30" stroke-width="1.3"/>
<line x1="505.40" y1="246.50" x2="505.40" y2="249.30" stroke-width="1.3"/>
<text transform="translate(401.70,258.70) scale(0.86,1)" text-anchor="middle" font-size="8.0">-Ca<tspan font-size="5.44" dx="0.3" dy="-2.5" style="stroke-width:0.25px">2</tspan><tspan font-size="5.44" dx="0.3" style="stroke-width:0.2px">+</tspan></text>
<text transform="translate(422.10,258.70) scale(1.0,0.96)" text-anchor="middle" font-size="8.0">V</text>
<text transform="translate(440.30,258.70) scale(1.0,0.96)" text-anchor="middle" font-size="8.0" textLength="18.6" lengthAdjust="spacingAndGlyphs">01A6</text>
<text transform="translate(464.70,258.70) scale(1.0,0.96)" text-anchor="middle" font-size="8.0" textLength="21.1" lengthAdjust="spacingAndGlyphs">14E11</text>
<text transform="translate(487.00,258.70) scale(1.0,0.96)" text-anchor="middle" font-size="8.0" textLength="10.7" lengthAdjust="spacingAndGlyphs">CTI</text>
<text transform="translate(505.40,258.70) scale(1.0,0.96)" text-anchor="middle" font-size="8.0" textLength="11.0" lengthAdjust="spacingAndGlyphs">OTI</text>
<path d="M413.80,258.10 L413.80,260.70 Q413.80,261.60 414.70,261.60 L516.30,261.60 Q517.20,261.60 517.20,260.70 L517.20,258.10" fill="none" stroke-width="1.3"/>
<line x1="463.70" y1="261.60" x2="463.70" y2="265.80" stroke-width="1.3"/>
<text transform="translate(464.90,274.00) scale(0.88,1)" text-anchor="middle" font-size="8.0">+Ca<tspan font-size="5.44" dx="0.3" dy="-2.5" style="stroke-width:0.25px">2</tspan><tspan font-size="5.44" dx="0.3" style="stroke-width:0.2px">+</tspan></text>
<line x1="394.30" y1="159.10" x2="408.30" y2="159.10" stroke-width="1.1"/>
<circle cx="393.73" cy="159.10" r="1.5" fill="#fff" stroke-width="1.25"/>
<circle cx="396.75" cy="159.10" r="1.5" fill="#fff" stroke-width="1.25"/>
<circle cx="399.79" cy="159.10" r="1.5" fill="#fff" stroke-width="1.25"/>
<circle cx="402.81" cy="159.10" r="1.5" fill="#fff" stroke-width="1.25"/>
<circle cx="405.85" cy="159.10" r="1.5" fill="#fff" stroke-width="1.25"/>
<circle cx="408.88" cy="159.10" r="1.5" fill="#fff" stroke-width="1.25"/>
<line x1="413.20" y1="183.35" x2="430.80" y2="183.35" stroke-width="1.1"/>
<circle cx="421.10" cy="180.50" r="1.6" fill="#fff" stroke-width="1.3"/>
<circle cx="422.20" cy="185.10" r="1.6" fill="#fff" stroke-width="1.3"/>
<circle cx="421.90" cy="190.90" r="1.6" fill="#fff" stroke-width="1.3"/>
<circle cx="427.20" cy="178.70" r="1.6" fill="#fff" stroke-width="1.3"/>
<circle cx="427.20" cy="182.30" r="1.6" fill="#fff" stroke-width="1.3"/>
<circle cx="416.50" cy="183.30" r="1.6" fill="#000" stroke-width="1.3"/>
<line x1="435.85" y1="159.05" x2="449.85" y2="159.05" stroke-width="1.1"/>
<circle cx="435.28" cy="159.05" r="1.5" fill="#fff" stroke-width="1.25"/>
<circle cx="438.31" cy="159.05" r="1.5" fill="#fff" stroke-width="1.25"/>
<circle cx="441.34" cy="159.05" r="1.5" fill="#fff" stroke-width="1.25"/>
<circle cx="444.37" cy="159.05" r="1.5" fill="#fff" stroke-width="1.25"/>
<circle cx="447.40" cy="159.05" r="1.5" fill="#fff" stroke-width="1.25"/>
<circle cx="450.43" cy="159.05" r="1.5" fill="#fff" stroke-width="1.25"/>
<line x1="455.80" y1="176.20" x2="472.90" y2="176.20" stroke-width="1.1"/>
<circle cx="458.10" cy="177.20" r="1.6" fill="#fff" stroke-width="1.3"/>
<circle cx="461.50" cy="175.50" r="1.6" fill="#fff" stroke-width="1.3"/>
<circle cx="464.10" cy="174.90" r="1.6" fill="#fff" stroke-width="1.3"/>
<circle cx="464.70" cy="179.00" r="1.6" fill="#fff" stroke-width="1.3"/>
<circle cx="467.20" cy="176.80" r="1.6" fill="#fff" stroke-width="1.3"/>
<circle cx="470.80" cy="178.70" r="1.6" fill="#fff" stroke-width="1.3"/>
<line x1="476.10" y1="175.30" x2="493.90" y2="175.30" stroke-width="1.1"/>
<circle cx="479.30" cy="177.20" r="1.6" fill="#fff" stroke-width="1.3"/>
<circle cx="482.50" cy="174.90" r="1.6" fill="#fff" stroke-width="1.3"/>
<circle cx="485.60" cy="173.40" r="1.6" fill="#fff" stroke-width="1.3"/>
<circle cx="485.20" cy="178.10" r="1.6" fill="#fff" stroke-width="1.3"/>
<circle cx="490.10" cy="177.40" r="1.6" fill="#fff" stroke-width="1.3"/>
<line x1="496.40" y1="182.50" x2="514.20" y2="182.50" stroke-width="1.1"/>
<circle cx="499.60" cy="181.00" r="1.6" fill="#fff" stroke-width="1.3"/>
<circle cx="504.70" cy="179.70" r="1.6" fill="#fff" stroke-width="1.3"/>
<circle cx="505.90" cy="183.80" r="1.6" fill="#fff" stroke-width="1.3"/>
<circle cx="510.40" cy="178.90" r="1.6" fill="#fff" stroke-width="1.3"/>
<circle cx="505.90" cy="189.50" r="1.6" fill="#fff" stroke-width="1.3"/>
</g>
</svg>
</body></html>
